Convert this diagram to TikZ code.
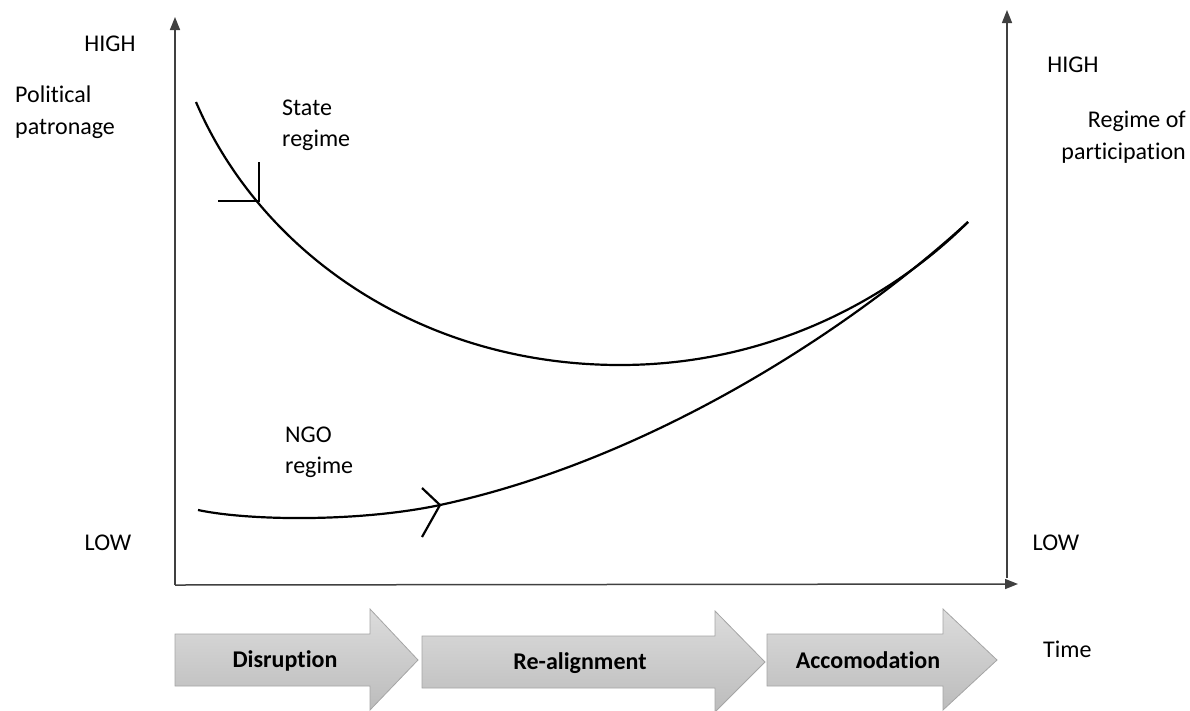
\documentclass[tikz,border=0pt]{standalone}
\usepackage{fontspec}
\setmainfont[Ligatures=NoCommon,RawFeature={-liga;-clig;-calt}]{Carlito}
\usetikzlibrary{arrows.meta}
\definecolor{axisgray}{RGB}{64,64,64}
\definecolor{arrtop}{RGB}{220,220,220}
\definecolor{arrbot}{RGB}{188,188,188}
\definecolor{arrline}{RGB}{165,165,165}
\tikzset{
  axisline/.style={draw=axisgray, line width=1.5pt, -{Triangle[width=10pt,length=13pt]}},
  curve/.style={draw=black, line width=2.2pt},
  marker/.style={draw=black, line width=2.2pt},
  lbl/.style={font=\fontsize{24}{29}\selectfont, inner sep=0pt, text height=15.5pt, text depth=0pt},
  phase/.style={top color=arrtop, bottom color=arrbot, draw=arrline, line width=0.8pt},
  phaselbl/.style={font=\fontsize{24}{29}\selectfont\bfseries, inner sep=0pt, text height=15.5pt, text depth=0pt}
}
\begin{document}
\begin{tikzpicture}[x=1pt,y=-1pt]
\useasboundingbox (0,0) rectangle (1190,710);
% axes
\coordinate (o) at (175,585);
\coordinate (ytop) at (175,17);
\coordinate (xend) at (1018,584);
\coordinate (rbot) at (1007,578);
\coordinate (rtop) at (1007,10);
\draw[axisline] (o) -- (ytop);
\draw[axisline] (o) -- (xend);
\draw[axisline] (rbot) -- (rtop);
% curves
\coordinate (s0) at (196,102);
\coordinate (smin) at (620,365);
\coordinate (e) at (968,222);
\coordinate (n0) at (198,510);
\coordinate (nm) at (440,505);
\coordinate (sm) at (259,201);
\draw[curve] (s0) .. controls (260,252) and (420,365) .. (smin)
  .. controls (780,365) and (900,290) .. (e);
\draw[curve] (n0) .. controls (250,521) and (360,522) .. (nm)
  .. controls (650,460) and (850,330) .. (e);
% markers
\coordinate (sm1) at (218,201);
\coordinate (sm2) at (259,162);
\draw[marker] (sm1) -- (sm) -- (sm2);
\coordinate (nm1) at (422,488);
\coordinate (nm2) at (422,537);
\draw[marker] (nm1) -- (nm) -- (nm2);
% labels
\node[lbl] (highl) at (110,44) {HIGH};
\node[lbl, anchor=west] (pol1) at (15,95) {Political};
\node[lbl, anchor=west] (pol2) at (15,127) {patronage};
\node[lbl] (lowl) at (108,543) {LOW};
\node[lbl, anchor=west] (st1) at (282,108) {State};
\node[lbl, anchor=west] (st2) at (282,139) {regime};
\node[lbl, anchor=west] (ng1) at (285,435) {NGO};
\node[lbl, anchor=west] (ng2) at (285,466) {regime};
\node[lbl] (highr) at (1073,65) {HIGH};
\node[lbl, anchor=east] (reg1) at (1186,120) {Regime of};
\node[lbl, anchor=east] (reg2) at (1186,152) {participation};
\node[lbl] (lowr) at (1056,543) {LOW};
\node[lbl, anchor=west] (time) at (1043,650) {Time};
% phase arrows
\path[phase] (175,634) -- (370,634) -- (370,609) -- (418,660) -- (370,710) -- (370,686) -- (175,686) -- cycle;
\path[phase] (422,636) -- (715,636) -- (715,611) -- (765,662) -- (715,712) -- (715,688) -- (422,688) -- cycle;
\path[phase] (767,634) -- (943,634) -- (943,609) -- (997,660) -- (943,710) -- (943,686) -- (767,686) -- cycle;
\node[phaselbl] (p1) at (285,660) {Disruption};
\node[phaselbl] (p2) at (580,662) {Re-alignment};
\node[phaselbl] (p3) at (868,661) {Accomodation};
\end{tikzpicture}
\end{document}
